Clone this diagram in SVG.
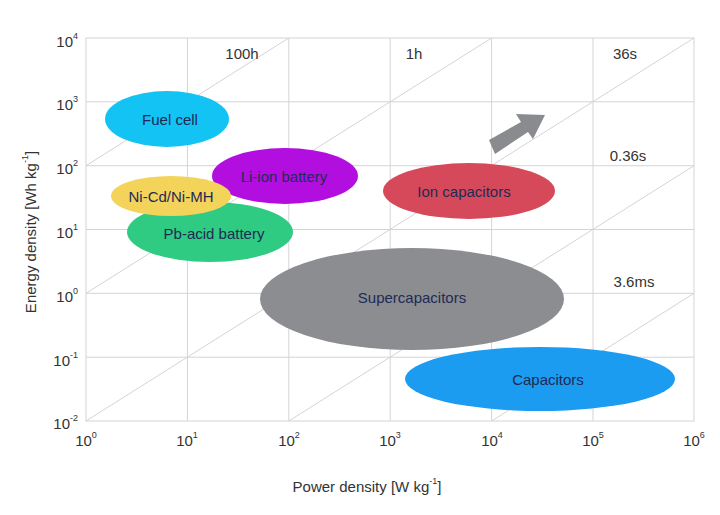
<svg xmlns="http://www.w3.org/2000/svg" width="720" height="515" viewBox="0 0 720 515">
<style>
.g{stroke:#d4d4d4;stroke-width:1;fill:none}
.d{stroke:#d4d4d4;stroke-width:1}
.t{font-family:"Liberation Sans",Arial,sans-serif;font-size:15px;fill:#333}
.n{font-family:"Liberation Sans",Arial,sans-serif;font-size:15px;fill:#1f2a55;text-anchor:middle}
.s{font-size:9px}
</style>
<rect width="720" height="515" fill="#fff"/>
<g id="grid">
<rect x="86" y="38" width="608" height="383" class="g" stroke="#bbb"/>
<path class="g" d="M187.4 38V421M288.8 38V421M390.2 38V421M491.6 38V421M593 38V421M86 101.8H694M86 165.7H694M86 229.5H694M86 293.3H694M86 357.2H694"/>
<path class="d" d="M86 421L694 38M288.8 421L694 165.7M491.6 421L694 293.3M86 293.3L491.6 38M86 165.7L288.8 38"/>
</g>
<g id="time-labels" class="t">
<text x="242" y="59" text-anchor="middle">100h</text>
<text x="414" y="59" text-anchor="middle">1h</text>
<text x="625" y="59" text-anchor="middle">36s</text>
<text x="628" y="161" text-anchor="middle">0.36s</text>
<text x="634" y="287" text-anchor="middle">3.6ms</text>
</g>
<g id="fuel-cell"><ellipse cx="167" cy="119" rx="62" ry="28" fill="#12c3f4"/><text class="n" x="170" y="125">Fuel cell</text></g>
<g id="li-ion"><ellipse cx="285" cy="176" rx="73" ry="28" fill="#b30ee0"/><text class="n" x="284" y="182">Li-ion battery</text></g>
<g id="pb-acid"><ellipse cx="210" cy="232" rx="83" ry="30" fill="#2fcb82"/><text class="n" x="214" y="239">Pb-acid battery</text></g>
<g id="ni-cd"><ellipse cx="171" cy="196" rx="60" ry="20" fill="#f3d35a"/><text class="n" x="171" y="202">Ni-Cd/Ni-MH</text></g>
<g id="ion-cap"><ellipse cx="469" cy="191" rx="86" ry="28" fill="#d5495b"/><text class="n" x="464" y="197">Ion capacitors</text></g>
<g id="supercap"><ellipse cx="412" cy="299" rx="152" ry="51" fill="#8b8d91"/><text class="n" x="412" y="303">Supercapacitors</text></g>
<g id="capacitors"><ellipse cx="540" cy="379" rx="135" ry="32" fill="#1b9cf0"/><text class="n" x="548" y="385">Capacitors</text></g>
<g id="connectors">
<polygon points="489,140 521,122 516,114 545,115 533,139 528,132 495,154" fill="#8a8b8f"/>
</g>
<g id="x-ticks" class="t" text-anchor="middle">
<text x="86" y="446">10<tspan class="s" dy="-8">0</tspan></text>
<text x="187" y="446">10<tspan class="s" dy="-8">1</tspan></text>
<text x="289" y="446">10<tspan class="s" dy="-8">2</tspan></text>
<text x="390" y="446">10<tspan class="s" dy="-8">3</tspan></text>
<text x="492" y="446">10<tspan class="s" dy="-8">4</tspan></text>
<text x="593" y="446">10<tspan class="s" dy="-8">5</tspan></text>
<text x="694" y="446">10<tspan class="s" dy="-8">6</tspan></text>
</g>
<g id="y-ticks" class="t" text-anchor="end">
<text x="78" y="47">10<tspan class="s" dy="-8">4</tspan></text>
<text x="78" y="110">10<tspan class="s" dy="-8">3</tspan></text>
<text x="78" y="174">10<tspan class="s" dy="-8">2</tspan></text>
<text x="78" y="238">10<tspan class="s" dy="-8">1</tspan></text>
<text x="78" y="302">10<tspan class="s" dy="-8">0</tspan></text>
<text x="78" y="366">10<tspan class="s" dy="-8">-1</tspan></text>
<text x="78" y="429">10<tspan class="s" dy="-8">-2</tspan></text>
</g>
<text class="t" x="367" y="492" text-anchor="middle">Power density [W kg<tspan class="s" dy="-8">-1</tspan><tspan dy="8">]</tspan></text>
<text class="t" transform="translate(36,232) rotate(-90)" text-anchor="middle">Energy density [Wh kg<tspan class="s" dy="-8">-1</tspan><tspan dy="8">]</tspan></text>
</svg>
